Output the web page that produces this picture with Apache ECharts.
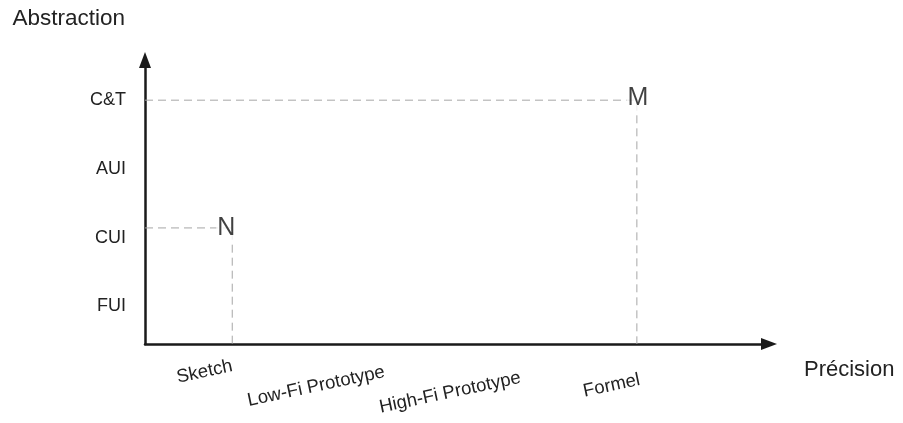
<!DOCTYPE html>
<html><head><meta charset="utf-8">
<script src="https://cdn.jsdelivr.net/npm/echarts@6/dist/echarts.min.js"></script>
<style>html,body{margin:0;padding:0;background:#fff}#c{width:903px;height:423px}</style>
</head><body><div id="c"></div>
<script>
// ---- data ----
const xCategories = ['Sketch', 'Low-Fi Prototype', 'High-Fi Prototype', 'Formel'];
const xTickValues = [1.38, 3.77, 5.9, 7.78];
const yCategories = ['FUI', 'CUI', 'AUI', 'C&T'];
const yTickValues = [0, 1, 2, 3];
const pointNames = ['N', 'M'];
const pointX = [1.38, 7.78];
const pointY = [1.14, 3];

const X_MIN = 0, X_MAX = 9.87, Y_MIN = -0.55, Y_MAX = 3.585;
const FONT = '"Liberation Sans", Arial, sans-serif';

const chart = echarts.init(document.getElementById('c'));

const rich = {};
const xPads = [0, 12, 24, 28];
xCategories.forEach((c, i) => {
  rich['l' + i] = { fontSize: 18.5, color: '#222', fontFamily: FONT, padding: [xPads[i], 0, 0, 0] };
});

const series = [];
pointNames.forEach((n, i) => {
  series.push({
    type: 'line', name: n + '-guide', symbol: 'none', silent: true, z: 1,
    lineStyle: { color: '#a6a6a6', width: 1, type: [8, 5] },
    data: [[X_MIN, pointY[i]], [pointX[i], pointY[i]], [pointX[i], Y_MIN]]
  });
});
series.push({
  type: 'scatter', name: 'points', symbolSize: 0, z: 5,
  data: pointNames.map((n, i) => ({ name: n, value: [pointX[i], pointY[i]],
    label: { offset: i === 0 ? [-6, 0] : [1, -2] } })),
  label: {
    show: true, position: 'inside', formatter: p => p.name,
    fontSize: 25, color: '#111', fontFamily: FONT,
    backgroundColor: '#fff', padding: [0, 1]
  }
});

const axisLineStyle = { color: '#1a1a1a', width: 2.5 };

chart.setOption({
  animation: false,
  textStyle: { fontFamily: FONT },
  grid: { left: 145, right: 134, top: 60, bottom: 79, outerBoundsMode: 'none' },
  xAxis: {
    type: 'value', min: X_MIN, max: X_MAX,
    name: '{n|Précision}', nameLocation: 'end', nameGap: 35,
    nameTextStyle: { rich: { n: { fontSize: 22, color: '#222', fontFamily: FONT, padding: [51, 0, 0, 0] } } },
    axisLine: { show: true, onZero: false, symbol: ['none', 'triangle'], symbolSize: [12, 16],
      lineStyle: axisLineStyle },
    axisTick: { show: false },
    splitLine: { show: false },
    axisLabel: {
      customValues: xTickValues, rotate: 12, margin: 22,
      formatter: v => { const i = xTickValues.indexOf(v); return i < 0 ? '' : '{l' + i + '|' + xCategories[i] + '}'; },
      rich: rich
    }
  },
  yAxis: {
    type: 'value', min: Y_MIN, max: Y_MAX,
    name: 'Abstraction', nameLocation: 'end', nameGap: 30,
    nameTextStyle: { fontSize: 22.5, color: '#222', fontFamily: FONT, align: 'right', padding: [0, 20, 0, 0] },
    axisLine: { show: true, onZero: false, symbol: ['none', 'triangle'], symbolSize: [12, 16],
      lineStyle: axisLineStyle },
    axisTick: { show: false },
    splitLine: { show: false },
    axisLabel: {
      customValues: yTickValues, margin: 19, fontSize: 18, color: '#222', fontFamily: FONT,
      formatter: v => { const i = yTickValues.indexOf(v); return i < 0 ? '' : yCategories[i]; }
    }
  },
  series: series
});
</script></body></html>
